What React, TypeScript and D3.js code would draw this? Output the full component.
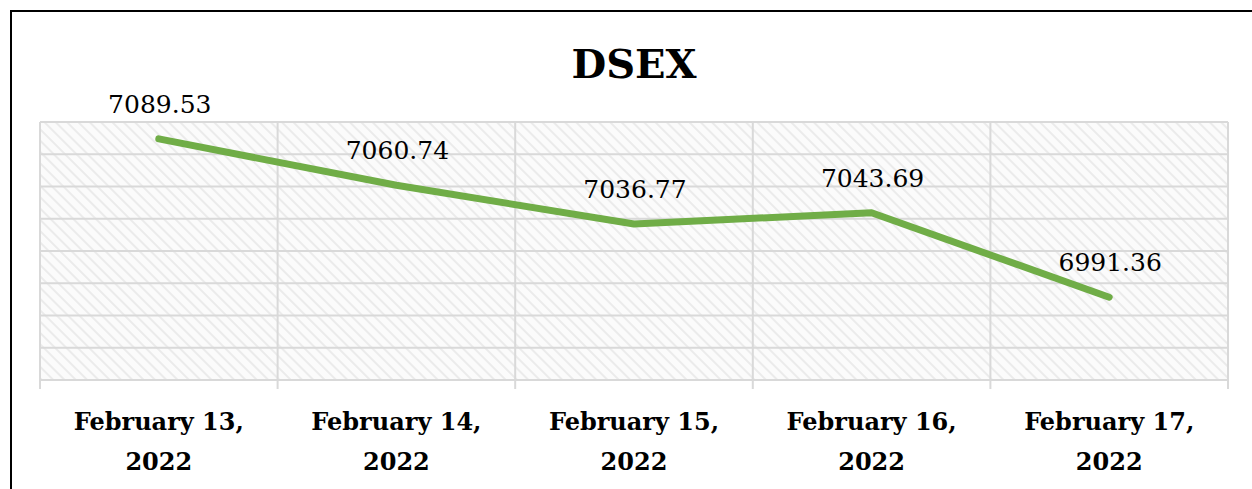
import { useRef, useEffect } from "react";
import * as d3 from "d3";

const dates = ["February 13, 2022", "February 14, 2022", "February 15, 2022", "February 16, 2022", "February 17, 2022"];
const dsex = [7089.53, 7060.74, 7036.77, 7043.69, 6991.36];
const yTicks = [6940, 6960, 6980, 7000, 7020, 7040, 7060, 7080, 7100];

const App = () => {
    const svgRef = useRef(null);

    useEffect(() => {
        const svg = d3.select(svgRef.current);
        svg.selectAll("*").remove();

        const width = 1252;
        const height = 489;
        const margin = { top: 122, right: 24, bottom: 109, left: 40 };
        const serif = "'DejaVu Serif', serif";

        // outer frame (right/bottom edges run off the picture)
        svg.append("path")
            .attr("d", `M11,${height + 5} V11 H${width + 5}`)
            .attr("fill", "none")
            .attr("stroke", "#000")
            .attr("stroke-width", 2);

        const defs = svg.append("defs");
        const pat = defs.append("pattern")
            .attr("id", "hatch")
            .attr("patternUnits", "userSpaceOnUse")
            .attr("width", 8)
            .attr("height", 8)
            .attr("patternTransform", "rotate(-45)");
        pat.append("rect").attr("width", 8).attr("height", 8).attr("fill", "#fbfbfb");
        pat.append("line")
            .attr("x1", 0).attr("y1", 0).attr("x2", 0).attr("y2", 8)
            .attr("stroke", "#ebebeb")
            .attr("stroke-width", 4);

        const x = d3.scaleBand()
            .domain(dates)
            .range([margin.left, width - margin.right])
            .padding(0);

        const y = d3.scaleLinear()
            .domain([6940, 7100])
            .range([height - margin.bottom, margin.top]);

        // plot background
        svg.append("rect")
            .attr("x", margin.left)
            .attr("y", margin.top)
            .attr("width", width - margin.left - margin.right)
            .attr("height", height - margin.top - margin.bottom)
            .attr("fill", "url(#hatch)");

        // horizontal gridlines
        svg.append("g")
            .selectAll("line")
            .data(yTicks)
            .join("line")
            .attr("x1", margin.left)
            .attr("x2", width - margin.right)
            .attr("y1", d => y(d))
            .attr("y2", d => y(d))
            .attr("stroke", "#d9d9d9")
            .attr("stroke-width", 2);

        // vertical category lines with tick marks
        const edges = dates.map(d => x(d) as number).concat([width - margin.right]);
        svg.append("g")
            .selectAll("line")
            .data(edges)
            .join("line")
            .attr("x1", d => d)
            .attr("x2", d => d)
            .attr("y1", margin.top)
            .attr("y2", height - margin.bottom + 9)
            .attr("stroke", "#d9d9d9")
            .attr("stroke-width", 2);

        const cx = (d: string) => (x(d) as number) + x.bandwidth() / 2;
        const data = dates.map((d, i) => ({ date: d, value: dsex[i] }));

        const line = d3.line<{ date: string; value: number }>()
            .x(d => cx(d.date))
            .y(d => y(d.value));

        svg.append("path")
            .datum(data)
            .attr("fill", "none")
            .attr("stroke", "#70ad47")
            .attr("stroke-width", 7)
            .attr("stroke-linecap", "round")
            .attr("stroke-linejoin", "round")
            .attr("d", line);

        // data labels
        svg.append("g")
            .selectAll("text")
            .data(data)
            .join("text")
            .attr("x", d => cx(d.date) + 1)
            .attr("y", d => y(d.value) - 26)
            .attr("text-anchor", "middle")
            .attr("font-family", serif)
            .attr("font-size", 25)
            .attr("fill", "#000")
            .text(d => d.value.toFixed(2));

        // category labels, two lines
        const lab = svg.append("g")
            .selectAll("text")
            .data(dates)
            .join("text")
            .attr("text-anchor", "middle")
            .attr("font-family", serif)
            .attr("font-size", 24)
            .attr("font-weight", "bold")
            .attr("fill", "#000");
        lab.append("tspan")
            .attr("x", d => cx(d))
            .attr("y", 430)
            .text(d => d.split(" 2022")[0]);
        lab.append("tspan")
            .attr("x", d => cx(d))
            .attr("y", 470)
            .text("2022");

        // title
        svg.append("text")
            .attr("x", 634)
            .attr("y", 78)
            .attr("text-anchor", "middle")
            .attr("font-family", serif)
            .attr("font-size", 40)
            .attr("font-weight", "bold")
            .attr("fill", "#000")
            .text("DSEX");
    }, []);

    return (
        <svg
            ref={svgRef}
            width={1252}
            height={489}
            style={{ position: "absolute", left: 0, top: 0, background: "#fff" }}
        ></svg>
    );
};

export default App;
